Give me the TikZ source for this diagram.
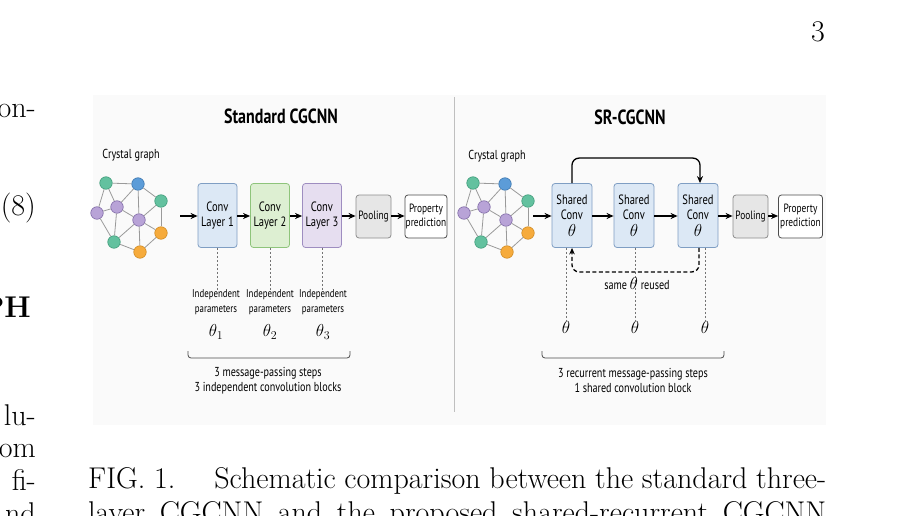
\documentclass[tikz,border=0pt]{standalone}
\usepackage{fontspec}
\newfontfamily\figsf{PT Sans}[FakeStretch=0.78]
\usetikzlibrary{arrows.meta}
\definecolor{figbg}{HTML}{FAFAFA}
\definecolor{bluefill}{HTML}{DCE8F5}
\definecolor{blueline}{HTML}{7F9EC3}
\definecolor{greenfill}{HTML}{DDEFD2}
\definecolor{greenline}{HTML}{8EC47B}
\definecolor{purpfill}{HTML}{E6DEF0}
\definecolor{purpline}{HTML}{9E8DC0}
\definecolor{poolfill}{HTML}{E6E6E6}
\definecolor{poolline}{HTML}{8C8C8C}
\definecolor{vgreen}{HTML}{63C19F}
\definecolor{vgreenD}{HTML}{3F9C7A}
\definecolor{vblue}{HTML}{5C9CD8}
\definecolor{vblueD}{HTML}{3C76AE}
\definecolor{vpurp}{HTML}{B8A3D7}
\definecolor{vpurpD}{HTML}{7E68A6}
\definecolor{vorange}{HTML}{F6AB3C}
\definecolor{vorangeD}{HTML}{D08A22}
\definecolor{edgegray}{HTML}{9A9A9A}
\newcommand{\crgraph}[2]{%
  \begin{scope}[xshift=#2]
    \node[vtx,fill=vgreen,draw=vgreenD]   (#1g1) at (106,183) {};
    \node[vtx,fill=vblue,draw=vblueD]     (#1g2) at (138,184) {};
    \node[vtx,fill=vgreen,draw=vgreenD]   (#1g3) at (161,201) {};
    \node[vtx,fill=vpurp,draw=vpurpD]     (#1g4) at (97,213) {};
    \node[vtx,fill=vpurp,draw=vpurpD]     (#1g5) at (117,207) {};
    \node[vtx,fill=vpurp,draw=vpurpD]     (#1g6) at (139,220) {};
    \node[vtx,fill=vorange,draw=vorangeD] (#1g7) at (161,233) {};
    \node[vtx,fill=vgreen,draw=vgreenD]   (#1g8) at (114,242) {};
    \node[vtx,fill=vorange,draw=vorangeD] (#1g9) at (140,252) {};
    \foreach \a/\b in {1/2,1/4,1/5,2/5,2/6,2/3,4/5,4/8,5/6,5/8,3/6,3/7,6/7,6/8,6/9,8/9,7/9}
      \draw[gedge] (#1g\a) -- (#1g\b);
  \end{scope}}
\begin{document}
\begin{tikzpicture}[x=1pt,y=-1pt,
  vtx/.style={circle,minimum size=12.5pt,inner sep=0pt,line width=0.6pt},
  gedge/.style={draw=edgegray,line width=0.8pt},
  sf/.style={font=\figsf\fontsize{13}{15}\selectfont,inner sep=0pt,align=center},
  sfsmall/.style={font=\figsf\fontsize{11.3}{15}\selectfont,inner sep=0pt,align=center},
  title/.style={font=\figsf\bfseries\fontsize{20.5}{22}\selectfont,inner sep=0pt},
  convbox/.style={draw,rounded corners=3pt,line width=0.8pt,minimum width=39pt,minimum height=64pt,inner sep=0pt,align=center,font=\figsf\fontsize{13.5}{15}\selectfont},
  smallbox/.style={draw,rounded corners=3pt,line width=0.8pt,minimum height=43pt,inner sep=0pt,align=center,font=\figsf\fontsize{12}{13.5}\selectfont},
  arr/.style={-{Stealth[length=7pt,width=6pt]},line width=1.4pt,black},
  dep/.style={draw=black!55,line width=0.7pt,dash pattern=on 2pt off 2pt},
  recur/.style={-{Stealth[length=6.5pt,width=5.5pt]},line width=1.3pt,black,dash pattern=on 4pt off 2.5pt,rounded corners=7pt},
  brk/.style={draw=black!70,line width=0.8pt,rounded corners=3pt},
  thl/.style={font=\fontsize{16.5}{18}\selectfont,inner sep=0pt},
  page/.style={font=\fontsize{30}{36}\selectfont,inner sep=0pt},
  capt/.style={font=\fontsize{30}{36}\selectfont,inner sep=0pt}
]
\useasboundingbox (0,0) rectangle (916,516);
\clip (0,0) rectangle (916,516);
\fill[white] (0,0) rectangle (916,516);

% ---------- page text ----------
\node[page,anchor=base] (pnum) at (818,42) {3};
\node[page,anchor=base east] (l1) at (36,118) {on-};
\node[page,anchor=base east] (l2) at (36,215) {(8)};
\node[page,anchor=base east] (l3) at (31,317) {\bfseries PH};
\node[page,anchor=base east] (l4) at (36,425) {lu-};
\node[page,anchor=base east] (l5) at (36,457) {om};
\node[page,anchor=base east] (l6) at (36,490) {fi-};
\node[page,anchor=base east] (l7) at (36,523) {nd};
\node[capt,anchor=base west] (cap1) at (88,488) {\makebox[738pt][s]{FIG. 1.\hskip 1.3em plus 0.3em Schematic comparison between the standard three-}};
\node[capt,anchor=base west] (cap2) at (88,522) {\makebox[738pt][s]{layer CGCNN and the proposed shared-recurrent CGCNN}};

% ---------- figure background ----------
\fill[figbg] (93,95) rectangle (826,425);
\draw[black!25,line width=0.8pt] (454,97) -- (454,412);

% ---------- Standard CGCNN ----------
\node[title] (tA) at (281,116) {Standard CGCNN};
\node[sf] (cgA) at (131,155) {Crystal graph};
\crgraph{A}{0pt}
\coordinate (gaA) at (180,216);
\node[convbox,fill=bluefill,draw=blueline]   (c1) at (217.5,215.5) {Conv\\Layer 1};
\node[convbox,fill=greenfill,draw=greenline] (c2) at (270,215.5) {Conv\\Layer 2};
\node[convbox,fill=purpfill,draw=purpline]   (c3) at (322,215.5) {Conv\\Layer 3};
\node[smallbox,fill=poolfill,draw=poolline,minimum width=35pt] (pA) at (373.5,216.5) {Pooling};
\node[smallbox,fill=white,draw=black!70,minimum width=42pt] (rA) at (426,216.5) {Property\\prediction};
\draw[arr] (gaA) -- (c1.west |- gaA);
\draw[arr] (c1.east |- gaA) -- (c2.west |- gaA);
\draw[arr] (c2.east |- gaA) -- (c3.west |- gaA);
\draw[arr] (c3.east |- gaA) -- (pA.west |- gaA);
\draw[arr] (pA.east |- gaA) -- (rA.west |- gaA);

\node[sfsmall] (ip1) at (216,302.5) {Independent\\parameters};
\node[sfsmall] (ip2) at (270,302.5) {Independent\\parameters};
\node[sfsmall] (ip3) at (323,302.5) {Independent\\parameters};
\draw[dep] (c1.south) -- (c1.south |- ip1.north);
\draw[dep] (c2.south) -- (c2.south |- ip2.north);
\draw[dep] (c3.south) -- (c3.south |- ip3.north);
\node[thl] (t1) at (216,332) {$\theta_1$};
\node[thl] (t2) at (270,332) {$\theta_2$};
\node[thl] (t3) at (323,332) {$\theta_3$};
\draw[brk] (188,351) -- (188,358) -- (350,358) -- (350,351);
\node[sf] (bA) at (268,380.5) {3 message-passing steps\\3 independent convolution blocks};

% ---------- SR-CGCNN ----------
\node[title] (tB) at (630,117) {SR-CGCNN};
\node[sf] (cgB) at (497,156) {Crystal graph};
\crgraph{B}{367pt}
\coordinate (gaB) at (533,216);
\node[convbox,fill=bluefill,draw=blueline,minimum width=40pt] (s1) at (572,215.5) {Shared\\Conv\\[2pt]{\fontsize{16}{16}\selectfont$\theta$}};
\node[convbox,fill=bluefill,draw=blueline,minimum width=40pt] (s2) at (634,215.5) {Shared\\Conv\\[2pt]{\fontsize{16}{16}\selectfont$\theta$}};
\node[convbox,fill=bluefill,draw=blueline,minimum width=40pt] (s3) at (698,215.5) {Shared\\Conv\\[2pt]{\fontsize{16}{16}\selectfont$\theta$}};
\node[smallbox,fill=poolfill,draw=poolline,minimum width=35pt] (pB) at (750.5,216.5) {Pooling};
\node[smallbox,fill=white,draw=black!70,minimum width=44pt] (rB) at (800.5,216.5) {Property\\prediction};
\draw[arr] (gaB) -- (s1.west |- gaB);
\draw[arr] (s1.east |- gaB) -- (s2.west |- gaB);
\draw[arr] (s2.east |- gaB) -- (s3.west |- gaB);
\draw[arr] (s3.east |- gaB) -- (pB.west |- gaB);
\draw[arr] (pB.east |- gaB) -- (rB.west |- gaB);
\draw[arr,line width=1.3pt,rounded corners=7pt] (s1.north) -- ++(0,-25) -| ([xshift=2pt]s3.north);

\node[thl] (th1) at (566,327) {$\theta$};
\node[thl] (th2) at (635,327) {$\theta$};
\node[thl] (th3) at (705,327) {$\theta$};
\draw[dep] (th1 |- s1.south) -- (th1.north);
\draw[dep] (th2 |- s2.south) -- (th2.north);
\draw[dep] (th3 |- s3.south) -- (th3.north);
\draw[recur] ([xshift=1pt]s3.south) -- ++(0,24) -| (s1.south);
\node[sf] (same) at (637,284) {same {\fontsize{16}{16}\selectfont$\theta$} reused};
\draw[brk] (542,351) -- (542,358) -- (724,358) -- (724,351);
\node[sf] (bB) at (633,380.5) {3 recurrent message-passing steps\\1 shared convolution block};
\end{tikzpicture}
\end{document}
